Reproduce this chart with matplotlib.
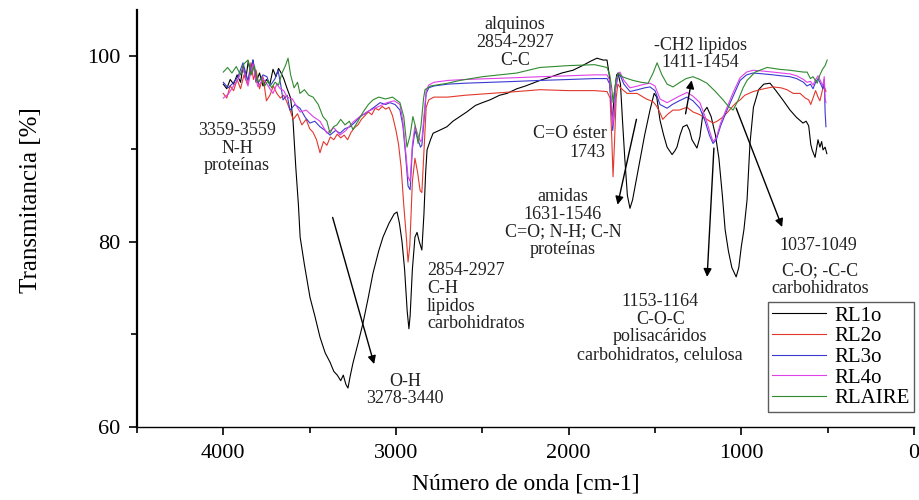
import matplotlib
matplotlib.use("Agg")
import matplotlib.pyplot as plt
from matplotlib.ticker import MultipleLocator

plt.rcParams["font.family"] = ["Liberation Serif", "DejaVu Serif"]

# ---- spectra: wavenumber [cm-1] and transmittance [%] ----
rl1o_wn = [4000, 3980, 3960, 3940, 3920, 3900, 3885, 3870, 3855, 3840, 3828, 3810, 3790, 3770,
           3750, 3730, 3712, 3695, 3680, 3665, 3650, 3630, 3610, 3596, 3580, 3565, 3555, 3530,
           3498, 3470, 3440, 3410, 3382, 3360, 3340, 3320, 3305, 3290, 3278, 3265, 3249, 3220,
           3191, 3160, 3133, 3100, 3075, 3040, 3010, 2994, 2980, 2965, 2950, 2935, 2925, 2918,
           2905, 2890, 2878, 2865, 2850, 2838, 2828, 2820, 2800, 2785, 2750, 2705, 2670, 2630,
           2590, 2540, 2500, 2456, 2400, 2357, 2300, 2250, 2166, 2100, 2040, 1975, 1920, 1870,
           1836, 1800, 1778, 1765, 1752, 1745, 1735, 1722, 1714, 1700, 1688, 1675, 1660, 1645,
           1630, 1610, 1587, 1560, 1529, 1505, 1490, 1471, 1450, 1430, 1401, 1385, 1373, 1355,
           1338, 1315, 1300, 1286, 1257, 1240, 1222, 1199, 1175, 1150, 1130, 1110, 1094, 1075,
           1055, 1030, 1015, 1000, 985, 967, 950, 930, 900, 870, 834, 800, 760, 718, 680, 643,
           625, 610, 598, 590, 573, 565, 556, 545, 535, 527, 515, 505]
rl1o_t = [97.0, 96.5, 97.5, 97.0, 98.0, 97.2, 99.0, 97.5, 99.5, 98.0, 99.6, 97.2, 98.2, 96.8,
          97.5, 97.0, 98.6, 97.8, 98.7, 98.2, 97.6, 96.5, 95.5, 93.0, 88.0, 84.0, 80.5, 77.5,
          74.0, 72.0, 69.7, 68.0, 67.0, 66.0, 65.6, 65.0, 65.6, 64.6, 64.2, 65.5, 66.9, 69.0,
          71.2, 74.0, 76.6, 79.0, 80.5, 82.0, 83.0, 83.2, 82.0, 80.0, 77.0, 72.5, 70.6, 72.0,
          77.0, 80.5, 81.0, 80.0, 79.1, 83.0, 87.5, 89.9, 91.0, 91.7, 92.0, 92.4, 93.0, 93.5,
          94.0, 94.7, 95.0, 95.3, 95.8, 96.0, 96.5, 96.8, 97.4, 97.8, 98.2, 98.5, 99.0, 99.5,
          99.8, 99.6, 99.6, 98.0, 94.0, 93.5, 96.0, 98.0, 98.2, 97.0, 93.0, 89.0, 85.0, 83.6,
          84.5, 86.5, 88.8, 91.5, 94.2, 96.0, 95.6, 93.1, 91.5, 90.2, 89.4, 89.8, 90.2, 91.5,
          92.4, 92.6, 92.0, 91.0, 90.1, 91.3, 93.9, 94.5, 93.5, 91.5, 89.0, 85.0, 81.3, 79.0,
          77.2, 76.2, 77.2, 79.5, 81.3, 84.5, 90.6, 94.5, 96.4, 97.0, 97.1, 96.3, 95.3, 94.2,
          93.4, 92.8, 93.0, 92.5, 90.5, 89.9, 89.1, 90.0, 91.0, 90.2, 90.8, 89.9, 90.2, 89.5]

rl2o_wn = [4000, 3980, 3960, 3940, 3920, 3900, 3880, 3860, 3840, 3825, 3810, 3790, 3770, 3750,
           3730, 3710, 3690, 3670, 3650, 3630, 3610, 3595, 3570, 3545, 3520, 3500, 3480, 3460,
           3440, 3420, 3400, 3380, 3360, 3340, 3320, 3300, 3280, 3260, 3240, 3220, 3200, 3180,
           3160, 3140, 3120, 3100, 3080, 3060, 3040, 3020, 3000, 2985, 2970, 2955, 2940, 2930,
           2920, 2905, 2890, 2875, 2860, 2850, 2840, 2825, 2810, 2780, 2700, 2600, 2450, 2300,
           2166, 2000, 1850, 1778, 1760, 1750, 1743, 1735, 1725, 1715, 1700, 1662, 1604, 1550,
           1511, 1490, 1471, 1455, 1430, 1396, 1360, 1315, 1280, 1240, 1200, 1164, 1140, 1110,
           1083, 1050, 1030, 1007, 980, 932, 870, 816, 770, 736, 700, 660, 630, 610, 598, 585,
           570, 556, 545, 530, 520, 510]
rl2o_t = [96.0, 95.5, 96.8, 96.3, 97.5, 96.5, 98.0, 97.0, 99.3, 97.5, 98.5, 96.5, 97.8, 95.2,
          95.8, 96.8, 96.0, 95.5, 95.8, 95.0, 94.0, 93.2, 93.8, 92.6, 93.2, 92.2, 91.8, 91.0,
          89.6, 90.8, 90.4, 91.3, 91.0, 91.6, 91.2, 91.5, 91.0, 91.8, 92.3, 92.6, 93.2, 93.6,
          94.0, 93.7, 94.4, 94.2, 94.6, 94.3, 94.5, 93.6, 92.0, 90.5, 88.0, 84.0, 80.5, 77.8,
          79.5, 86.5, 89.0, 87.5, 85.5, 85.3, 89.0, 94.5, 95.3, 95.6, 95.6, 95.8, 96.0, 96.2,
          96.4, 96.3, 96.3, 96.2, 95.5, 91.0, 87.0, 90.5, 95.5, 97.0, 96.6, 96.0, 96.0, 95.4,
          95.1, 94.6, 93.9, 93.2, 93.7, 94.2, 94.2, 94.5, 94.0, 93.7, 93.2, 92.8, 93.0, 93.4,
          93.9, 94.6, 95.0, 95.3, 95.8, 96.2, 96.5, 96.7, 96.6, 96.4, 96.0, 96.0, 95.5, 95.3,
          94.8, 95.5, 96.3, 95.6, 95.2, 96.4, 96.8, 96.2]

rl3o_wn = [4000, 3972, 3944, 3915, 3886, 3870, 3857, 3842, 3828, 3813, 3799, 3770, 3747, 3730,
           3718, 3700, 3683, 3668, 3654, 3630, 3614, 3585, 3556, 3525, 3498, 3470, 3440, 3410,
           3382, 3350, 3324, 3295, 3266, 3237, 3208, 3180, 3150, 3120, 3092, 3060, 3035, 3005,
           2977, 2960, 2945, 2930, 2918, 2905, 2890, 2872, 2858, 2850, 2838, 2825, 2810, 2780,
           2700, 2600, 2450, 2300, 2166, 2000, 1850, 1778, 1762, 1750, 1745, 1737, 1728, 1715,
           1703, 1680, 1645, 1600, 1560, 1529, 1500, 1471, 1430, 1400, 1360, 1315, 1280, 1240,
           1210, 1185, 1164, 1145, 1120, 1083, 1045, 1007, 970, 932, 870, 816, 770, 718, 680,
           640, 620, 600, 585, 570, 556, 540, 528, 520, 515, 510]
rl3o_t = [97.2, 96.6, 97.1, 97.8, 99.3, 98.2, 97.4, 98.6, 99.6, 98.0, 97.1, 98.0, 97.8, 96.8,
          97.1, 97.6, 98.5, 97.0, 95.3, 95.8, 94.2, 94.8, 94.4, 93.4, 92.8, 93.0, 92.4, 92.0,
          91.5, 92.0, 91.7, 92.2, 92.4, 92.9, 93.5, 93.8, 94.2, 94.6, 95.0, 94.8, 95.0, 94.8,
          94.2, 92.5, 89.5, 86.0, 85.6, 90.0, 92.0, 91.0, 90.2, 90.4, 93.0, 96.0, 96.6, 96.8,
          97.0, 97.1, 97.2, 97.3, 97.4, 97.5, 97.6, 97.6, 97.0, 94.0, 92.0, 93.5, 96.5, 97.8,
          98.0, 97.0, 96.2, 96.4, 96.6, 96.7, 96.3, 94.8, 94.4, 94.8, 95.2, 95.6, 95.2, 94.4,
          93.0, 91.5, 90.6, 91.0, 92.5, 94.2, 95.8, 97.4, 98.0, 98.2, 98.1, 98.0, 97.9, 97.8,
          97.6, 97.2, 96.8, 97.0, 96.5, 97.2, 97.6, 97.0, 96.5, 97.5, 94.0, 92.4]

rl4o_wn = [4000, 3972, 3944, 3915, 3886, 3870, 3857, 3842, 3828, 3813, 3799, 3770, 3747, 3730,
           3712, 3690, 3670, 3650, 3631, 3600, 3556, 3520, 3480, 3440, 3400, 3360, 3324, 3290,
           3249, 3210, 3168, 3110, 3052, 3010, 2977, 2960, 2945, 2930, 2918, 2905, 2890, 2872,
           2858, 2850, 2838, 2825, 2810, 2780, 2700, 2600, 2450, 2300, 2166, 2000, 1850, 1778,
           1762, 1750, 1745, 1737, 1728, 1715, 1703, 1680, 1645, 1600, 1560, 1529, 1500, 1471,
           1430, 1400, 1360, 1315, 1280, 1240, 1210, 1185, 1164, 1145, 1120, 1083, 1045, 1007,
           970, 932, 870, 816, 770, 718, 680, 640, 620, 600, 585, 570, 556, 540, 528, 520, 515,
           510]
rl4o_t = [95.5, 95.9, 96.7, 97.5, 98.8, 97.6, 96.8, 98.2, 99.2, 97.6, 96.7, 97.6, 97.0, 96.5,
          96.0, 97.0, 96.5, 96.3, 95.6, 95.4, 94.0, 94.2, 93.5, 93.0, 91.7, 92.3, 91.5, 92.0,
          92.9, 93.5, 94.0, 94.5, 95.0, 95.2, 94.8, 93.0, 90.0, 87.0, 86.5, 90.5, 92.5, 91.5,
          90.8, 91.0, 93.5, 96.3, 96.9, 97.2, 97.4, 97.5, 97.6, 97.7, 97.8, 97.9, 98.0, 98.0,
          97.4, 94.5, 92.5, 94.0, 96.8, 98.1, 98.3, 97.4, 96.6, 96.8, 97.0, 97.1, 96.8, 95.4,
          95.0, 95.3, 95.7, 96.1, 95.7, 95.0, 93.5, 92.0, 90.8, 91.2, 92.8, 94.5, 96.2, 97.7,
          98.3, 98.5, 98.4, 98.3, 98.2, 98.1, 97.9, 97.5, 97.2, 97.3, 96.9, 97.5, 97.9, 97.3,
          96.8, 97.8, 95.5, 95.0]

rlaire_wn = [4000, 3975, 3950, 3925, 3900, 3880, 3857, 3840, 3820, 3800, 3780, 3760, 3740, 3720,
             3700, 3680, 3660, 3640, 3625, 3610, 3590, 3570, 3556, 3530, 3505, 3480, 3450, 3423,
             3400, 3382, 3362, 3342, 3320, 3295, 3270, 3249, 3220, 3190, 3160, 3133, 3100, 3060,
             3020, 2977, 2955, 2936, 2918, 2902, 2888, 2872, 2855, 2840, 2832, 2800, 2700, 2630,
             2500, 2300, 2166, 2000, 1850, 1778, 1762, 1750, 1743, 1735, 1725, 1712, 1690, 1660,
             1627, 1580, 1540, 1511, 1488, 1460, 1430, 1396, 1355, 1320, 1280, 1240, 1199, 1150,
             1106, 1075, 1048, 1020, 990, 967, 920, 851, 780, 720, 680, 640, 619, 600, 585, 561,
             545, 530, 515, 503]
rlaire_t = [98.3, 98.8, 98.2, 98.9, 98.0, 99.2, 99.6, 98.0, 99.0, 97.2, 97.6, 96.8, 97.4, 96.6,
            97.2, 96.9, 98.2, 99.0, 99.8, 98.0, 96.6, 97.2, 96.0, 96.4, 95.8, 95.6, 94.8, 93.5,
            93.0, 91.7, 92.4, 92.6, 93.2, 92.6, 93.0, 92.1, 93.0, 94.0, 94.8, 95.3, 95.6, 95.4,
            95.6, 95.0, 93.5, 90.2, 91.5, 93.5, 92.5, 90.6, 92.5, 95.5, 96.4, 96.8, 97.1, 97.4,
            97.8, 98.2, 98.8, 99.0, 99.1, 98.8, 98.0, 96.5, 95.0, 96.2, 97.6, 98.2, 97.8, 97.6,
            97.4, 97.2, 97.1, 98.2, 99.3, 98.0, 97.0, 96.7, 97.2, 97.6, 97.8, 97.5, 97.1, 96.2,
            95.3, 94.6, 94.2, 95.2, 96.6, 97.4, 98.3, 98.8, 98.6, 98.5, 98.4, 98.3, 98.3, 97.6,
            97.8, 97.1, 98.0, 98.6, 99.0, 99.6]

series = [
    ("RL1o", rl1o_wn, rl1o_t, "#000000"),
    ("RL2o", rl2o_wn, rl2o_t, "#e2382c"),
    ("RL3o", rl3o_wn, rl3o_t, "#3a3ad0"),
    ("RL4o", rl4o_wn, rl4o_t, "#e040e8"),
    ("RLAIRE", rlaire_wn, rlaire_t, "#2f8a2f"),
]

fig = plt.figure(figsize=(9.19, 5.0), dpi=100)
ax = fig.add_axes([0.149, 0.146, 0.8456, 0.834])

for name, wn, t, color in series:
    ax.plot(wn, t, color=color, lw=0.8, label=name)

ax.set_xlim(4500, 0)
ax.set_ylim(60, 105)
ax.xaxis.set_major_locator(MultipleLocator(1000))
ax.xaxis.set_minor_locator(MultipleLocator(500))
ax.yaxis.set_major_locator(MultipleLocator(20))
ax.yaxis.set_minor_locator(MultipleLocator(10))
for side in ("top", "right"):
    ax.spines[side].set_visible(False)
ax.spines["left"].set_linewidth(1.6)
ax.spines["bottom"].set_linewidth(1.0)
ax.tick_params(which="major", direction="out", length=6, width=1.2, labelsize=16, pad=6)
ax.tick_params(which="minor", direction="out", length=4, width=1.2)

ax.set_xlabel("Número de onda [cm-1]", fontsize=17, labelpad=8)
ax.set_ylabel("Transmitancia [%]", fontsize=18)
ax.yaxis.set_label_coords(-0.122, 0.545)

ann = dict(fontsize=13, color="#222222", linespacing=1.05)
arrow = dict(arrowstyle="-|>", color="black", lw=1.0, mutation_scale=12)

ax.text(3921, 90.1, "3359-3559\nN-H\nproteínas", ha="center", va="center", **ann)
ax.annotate("", xy=(3122, 66.5), xytext=(3371, 82.9), arrowprops=arrow)
ax.text(2948, 64.0, "O-H\n3278-3440", ha="center", va="center", **ann)
ax.text(2820, 74.0, "2854-2927\nC-H\nlipidos\ncarbohidratos", ha="left", va="center", **ann)
ax.text(2311, 101.5, "alquinos\n2854-2927\nC-C", ha="center", va="center", **ann)
ax.text(1239, 100.25, "-CH2 lipidos\n1411-1454", ha="center", va="center", **ann)
ax.annotate("", xy=(1285, 97.7), xytext=(1326, 93.5), arrowprops=arrow)
ax.text(1778, 91.7, "C=O éster", ha="right", va="center", **ann)
ax.text(1789, 89.6, "1743", ha="right", va="center", **ann)
ax.text(2033, 82.0, "amidas\n1631-1546\nC=O; N-H; C-N\nproteínas", ha="center", va="center", **ann)
ax.annotate("", xy=(1720, 83.7), xytext=(1604, 93.5), arrowprops=arrow)
ax.text(1470, 70.7, "1153-1164\nC-O-C\npolisacáridos\ncarbohidratos, celulosa",
        ha="center", va="center", **ann)
ax.annotate("", xy=(1199, 75.9), xytext=(1158, 90.4), arrowprops=arrow)
ax.text(556, 79.6, "1037-1049", ha="center", va="center", **ann)
ax.text(545, 75.9, "C-O; -C-C\ncarbohidratos", ha="center", va="center", **ann)
ax.annotate("", xy=(758, 81.3), xytext=(1036, 94.7), arrowprops=arrow)

leg = ax.legend(loc="lower right", bbox_to_anchor=(1.0, 0.035), fontsize=15, frameon=True,
                fancybox=False, edgecolor="#333333", handlelength=2.6, handletextpad=0.4,
                borderpad=0.2, labelspacing=0.05, borderaxespad=0.0)
leg.get_frame().set_linewidth(1.0)

fig.savefig("out.png", dpi=100)
